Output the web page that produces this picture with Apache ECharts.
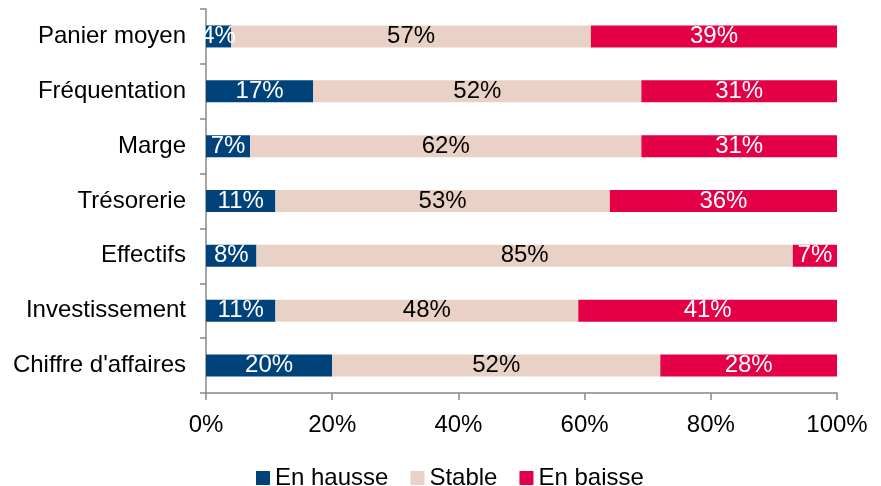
<html style="height: 100%">
<head>
	<meta charset="utf-8">
</head>
<body style="height: 100%; width: 100%; margin: 0; background: #fff">
	<div id="container" style="height: 100%; width: 100%;"></div>
	<script src="https://cdn.jsdelivr.net/npm/echarts@6/dist/echarts.min.js"></script>
	<script type="text/javascript">
		var categories = ["Chiffre d'affaires", "Investissement", "Effectifs", "Trésorerie", "Marge", "Fréquentation", "Panier moyen"];
		var hausse = [20, 11, 8, 11, 7, 17, 4];
		var stable = [52, 48, 85, 53, 62, 52, 57];
		var baisse = [28, 41, 7, 36, 31, 31, 39];
		var seriesNames = ["En hausse", "Stable", "En baisse"];

		var myChart = echarts.init(document.getElementById("container"));
		var font = "Liberation Sans, Arial, sans-serif";
		var fs = 24;

		function barSeries(name, data, color, labelColor) {
			return {
				name: name,
				type: 'bar',
				stack: 'total',
				barWidth: 22,
				data: data,
				itemStyle: { color: color },
				label: {
					show: true,
					position: 'inside',
					formatter: '{c}%',
					color: labelColor,
					fontSize: fs,
					fontFamily: font
				}
			};
		}

		var option = {
			animation: false,
			backgroundColor: '#fff',
			textStyle: { fontFamily: font },
			grid: { left: 206, right: 44, top: 9, bottom: 93 },
			legend: {
				top: 461,
				left: 251,
				itemWidth: 14,
				itemHeight: 14,
				itemGap: 22,
				icon: 'rect',
				textStyle: { fontSize: fs, color: '#000', fontFamily: font },
				data: seriesNames
			},
			xAxis: {
				type: 'value',
				min: 0,
				max: 100,
				interval: 20,
				axisLine: { show: true, lineStyle: { color: '#888', width: 1.5 } },
				axisTick: { show: true, length: 7, lineStyle: { color: '#888', width: 1.5 } },
				splitLine: { show: false },
				axisLabel: { formatter: '{value}%', fontSize: fs, color: '#000', margin: 20, fontFamily: font }
			},
			yAxis: {
				type: 'category',
				data: categories,
				axisLine: { show: true, lineStyle: { color: '#888', width: 1.5 } },
				axisTick: { show: true, length: 6, lineStyle: { color: '#888', width: 1.5 } },
				axisLabel: { fontSize: fs, color: '#000', margin: 20, fontFamily: font }
			},
			series: [
				barSeries(seriesNames[0], hausse, '#00437a', '#fff'),
				barSeries(seriesNames[1], stable, '#ead1c5', '#000'),
				barSeries(seriesNames[2], baisse, '#e30046', '#fff')
			]
		};

		myChart.setOption(option);
	</script>
</body>
</html>
